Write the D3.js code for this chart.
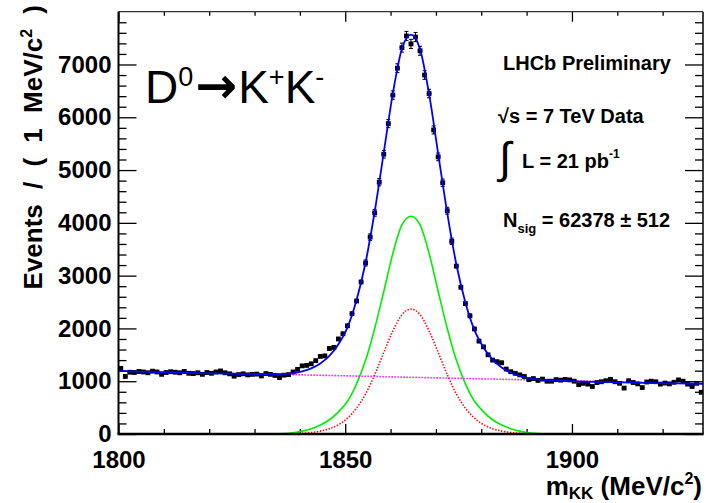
<!DOCTYPE html>
<html>
<head>
<meta charset="utf-8">
<script src="https://cdnjs.cloudflare.com/ajax/libs/d3/7.8.5/d3.min.js"></script>
<style>
  html, body { margin: 0; padding: 0; background: #fff; }
  svg text { font-family: "Liberation Sans", Arial, Helvetica, sans-serif; }
</style>
</head>
<body>
<svg id="chart" width="706" height="503"></svg>
<script>
// ---- Data: m(KK) spectrum, 1 MeV/c2 bins starting at 1800 MeV/c2 ----
const binLow = 1800;
const binWidth = 1;
const counts = [
  1243, 1090, 1170, 1165, 1185, 1175, 1160, 1190, 1175, 1130,
  1165, 1180, 1170, 1160, 1185, 1150, 1145, 1160, 1130, 1165,
  1150, 1175, 1195, 1160, 1140, 1095, 1125, 1140, 1120, 1130,
  1135, 1100, 1145, 1130, 1110, 1070, 1115, 1125, 1175, 1225,
  1290, 1300, 1330, 1390, 1470, 1480, 1620, 1640, 1800, 1900,
  2050, 2280, 2520, 2880, 3240, 3730, 4190, 4770, 5300, 5880,
  6420, 6930, 7320, 7540, 7390, 7520, 7260, 6800, 6450, 5760,
  5250, 4760, 4230, 3650, 3180, 2780, 2470, 2240, 1990, 1760,
  1650, 1500, 1400, 1370, 1350, 1230, 1180, 1150, 1120, 1090,
  1030, 1050, 1015, 1040, 1000, 1000, 1030, 1020, 1035, 1025,
  1000,  935,  960,  945,  900,  975,  990, 1010, 1035,  990,
   960,  870, 1010,  975,  950,  880,  985, 1000,  990,  945,
   965,  950,  980, 1025, 1000,  945,  900,  960,  790
];

// ---- Fit components, sampled every 2 MeV/c2 ----
const sigMass = [
  1834.5, 1836.5, 1838.5, 1840.5, 1842.5, 1844.5, 1846.5, 1848.5, 1850.5, 1852.5,
  1854.5, 1856.5, 1858.5, 1860.5, 1862.5, 1864.5, 1866.5, 1868.5, 1870.5, 1872.5,
  1874.5, 1876.5, 1878.5, 1880.5, 1882.5, 1884.5, 1886.5, 1888.5, 1890.5, 1892.5,
  1894.5
];
// first signal component (green)
const sigGreen = [
     3,   10,   25,   55,  100,  170,  270,  420,  620,  950,
  1400, 2000, 2700, 3420, 3960, 4126, 3960, 3420, 2700, 2000,
  1400,  950,  620,  420,  270,  170,  100,   55,   25,   10,
     3
];
// second signal component (red)
const sigRed = [
     0,    2,    5,   13,   28,   55,  100,  175,  300,  490,
   760, 1125, 1545, 1950, 2260, 2366, 2260, 1950, 1545, 1125,
   760,  490,  300,  175,  100,   55,   28,   13,    5,    2,
     0
];
// combinatorial background (magenta), linear in mass
const bkgMass = [1800, 1928.9];
const bkgLevel = [1197, 952];

// ---- Axis ticks ----
const xMajor = [1800, 1850, 1900];
const xMinor = [1810, 1820, 1830, 1840, 1860, 1870, 1880, 1890, 1910, 1920];
const yMajor = [0, 1000, 2000, 3000, 4000, 5000, 6000, 7000];
const yMinor = d3.range(200, 8000, 200).filter(v => v % 1000 !== 0);

// ---- Layout ----
const L = 118.5, R = 703, T = 11.7, B = 434;
const svg = d3.select("#chart");
const x = d3.scaleLinear().domain([1800, 1928.9]).range([L, R]);
const y = d3.scaleLinear().domain([0, 8000]).range([B, T]);
const bkg = d3.scaleLinear().domain(bkgMass).range(bkgLevel);

svg.append("defs").append("clipPath").attr("id", "plotClip")
  .append("rect").attr("x", L).attr("y", T).attr("width", R - L).attr("height", B - T);

// ---- Axes (ticks point inward, on all four sides) ----
function styleAxis(g) {
  g.select(".domain").remove();
  g.selectAll(".tick line").attr("stroke", "#000").attr("stroke-width", 1.3);
  g.selectAll("text")
    .attr("fill", "#000")
    .style("font-size", "24px")
    .style("font-weight", "bold");
}

svg.append("g").attr("transform", `translate(0,${B})`)
  .call(d3.axisBottom(x).tickValues(xMajor).tickSize(-10).tickPadding(17).tickFormat(d3.format("d")))
  .call(styleAxis);
svg.append("g").attr("transform", `translate(0,${B})`)
  .call(d3.axisBottom(x).tickValues(xMinor).tickSize(-5).tickFormat(""))
  .call(styleAxis);
svg.append("g").attr("transform", `translate(0,${T})`)
  .call(d3.axisTop(x).tickValues(xMajor).tickSize(-10).tickFormat(""))
  .call(styleAxis);
svg.append("g").attr("transform", `translate(0,${T})`)
  .call(d3.axisTop(x).tickValues(xMinor).tickSize(-4).tickFormat(""))
  .call(styleAxis);

svg.append("g").attr("transform", `translate(${L},0)`)
  .call(d3.axisLeft(y).tickValues(yMajor).tickSize(-18).tickPadding(7).tickFormat(d3.format("d")))
  .call(styleAxis);
svg.append("g").attr("transform", `translate(${L},0)`)
  .call(d3.axisLeft(y).tickValues(yMinor).tickSize(-8).tickFormat(""))
  .call(styleAxis);
svg.append("g").attr("transform", `translate(${R},0)`)
  .call(d3.axisRight(y).tickValues(yMajor).tickSize(-18).tickFormat(""))
  .call(styleAxis);
svg.append("g").attr("transform", `translate(${R},0)`)
  .call(d3.axisRight(y).tickValues(yMinor).tickSize(-8).tickFormat(""))
  .call(styleAxis);

// ---- Fit curves ----
const plot = svg.append("g").attr("clip-path", "url(#plotClip)");
const line = d3.line().x(d => x(d[0])).y(d => y(d[1])).curve(d3.curveMonotoneX);

const bkgPts = bkgMass.map((m, i) => [m, bkgLevel[i]]);
const greenPts = sigMass.map((m, i) => [m, sigGreen[i]]);
const redPts = sigMass.map((m, i) => [m, sigRed[i]]);
const totalPts = [[bkgMass[0], bkg(bkgMass[0])]]
  .concat(sigMass.map((m, i) => [m, bkg(m) + sigGreen[i] + sigRed[i]]))
  .concat([[bkgMass[1], bkg(bkgMass[1])]]);

plot.append("path").datum(redPts).attr("d", line)
  .attr("fill", "none").attr("stroke", "#ff0000").attr("stroke-width", 1.6)
  .attr("stroke-dasharray", "1.4,1.6");
plot.append("path").datum(greenPts).attr("d", line)
  .attr("fill", "none").attr("stroke", "#00ee00").attr("stroke-width", 1.6);
plot.append("path").datum(bkgPts).attr("d", line)
  .attr("fill", "none").attr("stroke", "#ff00ff").attr("stroke-width", 1.6)
  .attr("stroke-dasharray", "1.4,1.6");

// ---- Data points with Poisson errors ----
const pts = counts.map((n, i) => ({ m: binLow + (i + 0.5) * binWidth, n: n, e: Math.sqrt(n) }));
const dataG = plot.append("g");
dataG.selectAll("line.ey").data(pts).join("line")
  .attr("x1", d => x(d.m)).attr("x2", d => x(d.m))
  .attr("y1", d => y(d.n - d.e)).attr("y2", d => y(d.n + d.e))
  .attr("stroke", "#000").attr("stroke-width", 1);
dataG.selectAll("line.ex").data(pts).join("line")
  .attr("x1", d => x(d.m - binWidth / 2)).attr("x2", d => x(d.m + binWidth / 2))
  .attr("y1", d => y(d.n)).attr("y2", d => y(d.n))
  .attr("stroke", "#000").attr("stroke-width", 1);
dataG.selectAll("path.cap").data(pts.filter(d => y(d.n - d.e) - y(d.n + d.e) > 6)).join("path")
  .attr("d", d => `M${x(d.m) - 2},${y(d.n + d.e)}H${x(d.m) + 2}M${x(d.m) - 2},${y(d.n - d.e)}H${x(d.m) + 2}`)
  .attr("stroke", "#000").attr("stroke-width", 1);
dataG.selectAll("rect").data(pts).join("rect")
  .attr("x", d => x(d.m) - 2.4).attr("y", d => y(d.n) - 2.4)
  .attr("width", 4.8).attr("height", 4.8).attr("fill", "#000");

// total fit drawn over the data
plot.append("path").datum(totalPts).attr("d", line)
  .attr("fill", "none").attr("stroke", "#0000ff").attr("stroke-width", 1.8);

// ---- Frame ----
svg.append("line").attr("x1", L).attr("x2", R).attr("y1", T).attr("y2", T)
  .attr("stroke", "#333").attr("stroke-width", 1.2);
svg.append("line").attr("x1", R).attr("x2", R).attr("y1", T).attr("y2", B)
  .attr("stroke", "#000").attr("stroke-width", 1.5);
svg.append("line").attr("x1", L).attr("x2", L).attr("y1", T).attr("y2", B)
  .attr("stroke", "#000").attr("stroke-width", 2);
svg.append("line").attr("x1", L - 1).attr("x2", R + 0.7).attr("y1", B).attr("y2", B)
  .attr("stroke", "#000").attr("stroke-width", 2.5);

// ---- Axis titles ----
const yTitle = svg.append("text")
  .attr("transform", "translate(42,5) rotate(-90)")
  .attr("text-anchor", "end")
  .attr("word-spacing", "8px")
  .style("font-size", "26px").style("font-weight", "bold").attr("fill", "#000");
yTitle.append("tspan").text("Events / ( 1 MeV/c");
yTitle.append("tspan").attr("dy", -10).style("font-size", "16px").text("2");
yTitle.append("tspan").attr("dy", 10).text(" )");

const xTitle = svg.append("text")
  .attr("x", 702).attr("y", 495).attr("text-anchor", "end")
  .style("font-size", "26px").style("font-weight", "bold").attr("fill", "#000");
xTitle.append("tspan").text("m");
xTitle.append("tspan").attr("dy", 4).style("font-size", "17px").text("KK");
xTitle.append("tspan").attr("dy", -4).text(" (MeV/c");
xTitle.append("tspan").attr("dy", -11).style("font-size", "16px").text("2");
xTitle.append("tspan").attr("dy", 11).text(")");

// ---- Decay label ----
const decay = svg.append("text").attr("x", 145).attr("y", 103)
  .style("font-size", "46px").attr("fill", "#000");
decay.append("tspan").text("D");
decay.append("tspan").attr("dy", -17).style("font-size", "27px").text("0");
decay.append("tspan").attr("dy", 17).attr("dx", 2)
  .style("font-family", "'DejaVu Sans'").style("font-weight", "bold").style("font-size", "50px").text("→");
decay.append("tspan").attr("dx", 1).text("K");
decay.append("tspan").attr("dy", -17).style("font-size", "27px").text("+");
decay.append("tspan").attr("dy", 17).text("K");
decay.append("tspan").attr("dy", -17).style("font-size", "27px").text("-");

// ---- Experiment / fit annotations ----
const info = svg.append("g").attr("fill", "#000")
  .style("font-size", "20px").style("font-weight", "bold");
info.append("text").attr("x", 503).attr("y", 70).text("LHCb Preliminary");
info.append("text").attr("x", 498).attr("y", 123).text("√s = 7 TeV Data");
info.append("text").attr("x", 499).attr("y", 173)
  .style("font-size", "44px").style("font-weight", "normal").text("∫");
const lumi = info.append("text").attr("x", 522).attr("y", 168);
lumi.append("tspan").text("L = 21 pb");
lumi.append("tspan").attr("dy", -10).style("font-size", "12px").text("-1");
const nsig = info.append("text").attr("x", 503).attr("y", 227);
nsig.append("tspan").text("N");
nsig.append("tspan").attr("dy", 6).style("font-size", "13px").text("sig");
nsig.append("tspan").attr("dy", -6).text(" = 62378 ± 512");
</script>
</body>
</html>
